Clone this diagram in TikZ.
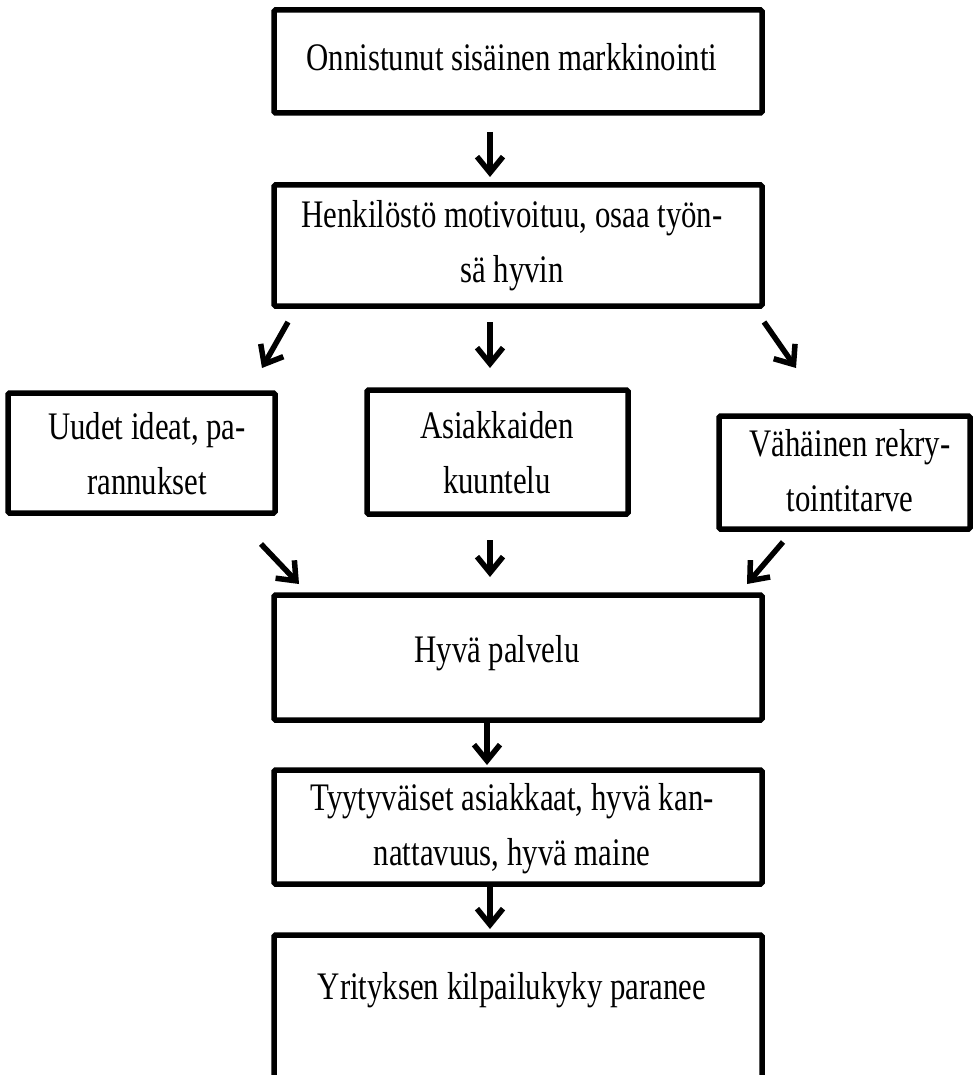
\documentclass[tikz,border=0pt]{standalone}
\usepackage{fontspec}
\setmainfont{Liberation Serif}[FakeStretch=0.79]
\usetikzlibrary{arrows.meta}
\begin{document}
\begin{tikzpicture}[x=1pt,y=-1pt,
  box/.style={draw=black, line width=5.5pt, fill=white, rounded corners=1.5pt,
    inner sep=0pt},
  boxtext/.style={font=\fontsize{39}{55}\selectfont, align=center, inner sep=0pt},
  flow/.style={line width=5.5pt, -{Straight Barb[length=16pt,width=26pt]}}
]
\useasboundingbox (0,0) rectangle (976,1075);

% boxes
\node[box, minimum width=488pt, minimum height=103pt] (b1) at (518,61.5) {};
\node[box, minimum width=488pt, minimum height=121pt] (b2) at (518,245.5) {};
\node[box, minimum width=267pt, minimum height=120pt] (b3) at (141.5,453) {};
\node[box, minimum width=261pt, minimum height=124pt] (b4) at (497.5,452) {};
\node[box, minimum width=251pt, minimum height=113pt] (b5) at (844.5,472.5) {};
\node[box, minimum width=488pt, minimum height=125pt] (b6) at (518,657.5) {};
\node[box, minimum width=488pt, minimum height=114pt] (b7) at (518,827) {};
\node[box, minimum width=488pt, minimum height=165pt] (b8) at (518,1017.5) {};

% texts
\node[boxtext] (t1) at (512,57) {Onnistunut sisäinen markkinointi};
\node[boxtext] (t2) at (512,246) {Henkilöstö motivoituu, osaa työn-\\sä hyvin};
\node[boxtext] (t3) at (147,454) {Uudet ideat, pa-\\rannukset};
\node[boxtext] (t4) at (497,452.5) {Asiakkaiden\\kuuntelu};
\node[boxtext] (t5) at (850,470.5) {Vähäinen rekry-\\tointitarve};
\node[boxtext] (t6) at (497,653) {Hyvä palvelu};
\node[boxtext] (t7) at (512,829) {Tyytyväiset asiakkaat, hyvä kan-\\nattavuus, hyvä maine};
\node[boxtext] (t8) at (512,990) {Yrityksen kilpailukyky paranee};

% arrow end points
\coordinate (a1s) at (490,132);  \coordinate (a1e) at (490,177);
\coordinate (a2s) at (288,322);  \coordinate (a2e) at (262,368);
\coordinate (a3s) at (490,322);  \coordinate (a3e) at (490,368);
\coordinate (a4s) at (764,322);  \coordinate (a4e) at (796,368);
\coordinate (a5s) at (261,544);  \coordinate (a5e) at (299,584);
\coordinate (a6s) at (490,540);  \coordinate (a6e) at (490,577);
\coordinate (a7s) at (783,542);  \coordinate (a7e) at (747,584);
\coordinate (a8e) at (487,765);
\coordinate (a9e) at (490,929);

% connectors
\draw[flow] (a1s) -- (a1e);
\draw[flow] (a2s) -- (a2e);
\draw[flow] (a3s) -- (a3e);
\draw[flow] (a4s) -- (a4e);
\draw[flow] (a5s) -- (a5e);
\draw[flow] (a6s) -- (a6e);
\draw[flow] (a7s) -- (a7e);
\draw[flow] (b6.south -| a8e) -- (a8e);
\draw[flow] (b7.south -| a9e) -- (a9e);
\end{tikzpicture}
\end{document}
